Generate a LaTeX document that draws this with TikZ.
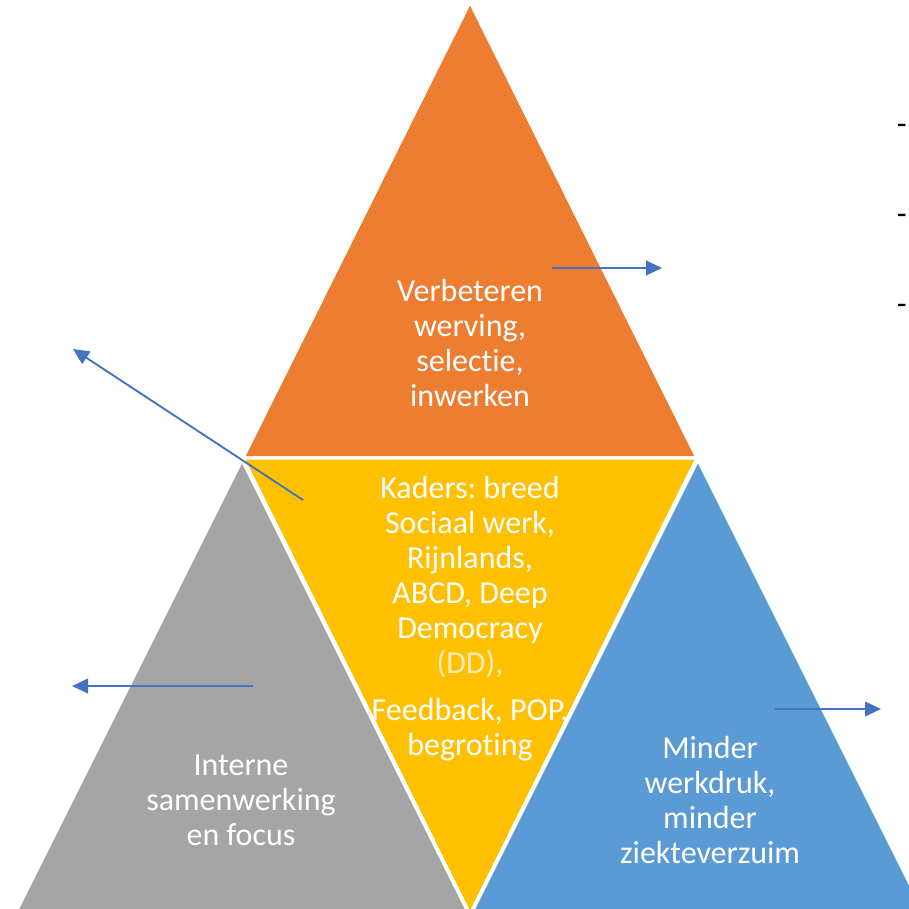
\documentclass[tikz,border=0pt]{standalone}
\usepackage{fontspec}
\setmainfont{Carlito}[Ligatures=NoCommon]
\frenchspacing
\usetikzlibrary{arrows.meta}
\definecolor{orangeA}{HTML}{ED7D31}
\definecolor{goldA}{HTML}{FFC000}
\definecolor{grayA}{HTML}{A5A5A5}
\definecolor{blueA}{HTML}{5B9BD5}
\definecolor{blueL}{HTML}{4472C4}
\definecolor{paleA}{HTML}{FFEDBA}
\tikzset{
  tri/.style={draw=white,line width=2.3pt,line join=miter},
  lbl/.style={text=white,align=center,inner sep=0pt,font=\fontsize{24pt}{26.25pt}\selectfont},
  pijl/.style={draw=blueL,line width=1.4pt,-{Triangle[length=12pt,width=11pt]}},
  streep/.style={inner sep=0pt,anchor=east,font=\fontsize{24pt}{26.25pt}\selectfont}
}
\begin{document}
\begin{tikzpicture}[x=0.75pt,y=0.75pt,yscale=-1,xscale=1]
\useasboundingbox (0,0) rectangle (908,909);
% driehoeken
\fill[orangeA] (470,2) -- (697,458) -- (243,458) -- cycle;
\draw[tri] (470,2) -- (697,458) -- (243,458) -- cycle;
\fill[goldA] (243,458) -- (697,458) -- (470,914) -- cycle;
\draw[tri] (243,458) -- (697,458) -- (470,914) -- cycle;
\fill[grayA] (242,460) -- (470,916) -- (14,916) -- cycle;
\draw[tri] (242,460) -- (470,916) -- (14,916) -- cycle;
\fill[blueA] (698,460) -- (926,916) -- (470,916) -- cycle;
\draw[tri] (698,460) -- (926,916) -- (470,916) -- cycle;
% teksten
\node[lbl] (werving) at (470,343) {Verbeteren\\werving,\\selectie,\\inwerken};
\node[lbl] (kaders) at (470,619) {Kaders: breed\\Sociaal werk,\\Rijnlands,\\ABCD, Deep\\Democracy\\\textcolor{paleA}{(DD),}\\[9pt]Feedback, POP,\\begroting};
\node[lbl] (intern) at (241,800) {Interne\\samenwerking\\en focus};
\node[lbl] (werkdruk) at (710,800) {Minder\\werkdruk,\\minder\\ziekteverzuim};
% streepjes rechts
\node[streep] (s1) at (907,129) {-};
\node[streep] (s2) at (907,219) {-};
\node[streep] (s3) at (907,309) {-};
% pijlen
\coordinate (p1a) at (552,268);
\coordinate (p1b) at (662,268);
\coordinate (p2a) at (303,500);
\coordinate (p2b) at (73,349);
\coordinate (p3a) at (253,686);
\coordinate (p3b) at (72,686);
\coordinate (p4a) at (775,709);
\coordinate (p4b) at (881,709);
\draw[pijl] (p1a) -- (p1b);
\draw[pijl] (p2a) -- (p2b);
\draw[pijl] (p3a) -- (p3b);
\draw[pijl] (p4a) -- (p4b);
\end{tikzpicture}
\end{document}
